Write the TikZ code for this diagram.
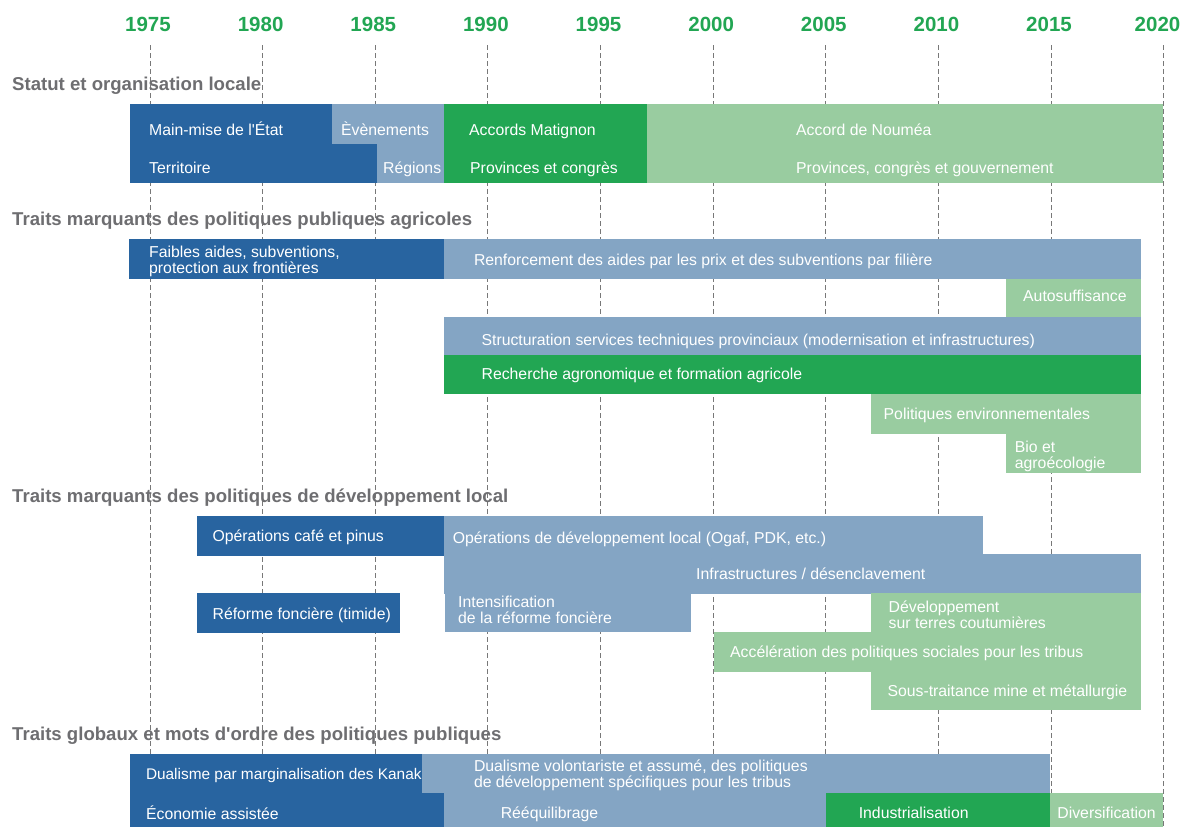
\documentclass[tikz,border=0pt]{standalone}
\usepackage{fontspec}
\setmainfont{Liberation Sans}
\definecolor{dblue}{RGB}{40,100,160}
\definecolor{lblue}{RGB}{132,165,196}
\definecolor{dgreen}{RGB}{34,166,83}
\definecolor{lgreen}{RGB}{153,204,160}
\definecolor{headgrey}{RGB}{110,110,113}
\definecolor{gridgrey}{RGB}{120,120,120}
\begin{document}
\begin{tikzpicture}[x=1pt,y=-1pt,
  lbl/.style={anchor=base west,inner sep=0pt,text=white,font=\fontsize{15.8}{16}\selectfont},
  lbltwo/.style={anchor=north west,inner sep=0pt,text=white,align=left,font=\fontsize{15.8}{16}\selectfont},
  head/.style={anchor=base west,inner sep=0pt,text=headgrey,font=\bfseries\fontsize{18.6}{20}\selectfont},
  yearlbl/.style={anchor=base,inner sep=0pt,text=dgreen,font=\bfseries\fontsize{20.5}{22}\selectfont},
  gridline/.style={draw=gridgrey,line width=1pt,dash pattern=on 5pt off 3pt}]
\useasboundingbox (0,0) rectangle (1181,827);
\fill[white] (0,0) rectangle (1181,827);

% grid
\foreach \yr [count=\i from 0] in {1975,1980,1985,1990,1995,2000,2005,2010,2015,2020}{
  \coordinate (gt\yr) at ({150+\i*112.63},45);
  \coordinate (gb\yr) at ({150+\i*112.63},827);
  \draw[gridline] (gt\yr) -- (gb\yr);
}
% year labels
\foreach \yr [count=\i from 0] in {1975,1980,1985,1990,1995,2000,2005,2010,2015}{
  \node[yearlbl] (y\yr) at ({148+\i*112.63},31.3) {\yr};
}
\node[yearlbl] (y2020) at (1157.5,31.3) {2020};

% ---------- Section 1
\node[head] (h1) at (12,90.5) {Statut et organisation locale};
\fill[dblue] (130,104) rectangle (332,144);
\fill[dblue] (130,143.5) rectangle (377,182.5);
\fill[lblue] (332,104) rectangle (444,144);
\fill[lblue] (377,143.5) rectangle (444,182.5);
\fill[dgreen] (444,104) rectangle (647,182.5);
\fill[lgreen] (647,104) rectangle (1163,182.5);
\node[lbl] (t11) at (149,135.5) {Main-mise de l\textquotesingle État};
\node[lbl] (t12) at (149,173) {Territoire};
\node[lbl] (t13) at (341,135.5) {Èvènements};
\node[lbl] (t14) at (383,173) {Régions};
\node[lbl] (t15) at (469,135.5) {Accords Matignon};
\node[lbl] (t16) at (470,173) {Provinces et congrès};
\node[lbl] (t17) at (796,135.5) {Accord de Nouméa};
\node[lbl] (t18) at (796,173) {Provinces, congrès et gouvernement};

% ---------- Section 2
\node[head] (h2) at (12,225.6) {Traits marquants des politiques publiques agricoles};
\fill[dblue] (129,239) rectangle (444,279);
\fill[lblue] (444,239) rectangle (1141,279);
\fill[lgreen] (1005.6,278.7) rectangle (1141,317);
\fill[lblue] (444,317) rectangle (1141,355.3);
\fill[dgreen] (444,355) rectangle (1141,394.3);
\fill[lgreen] (870.8,394) rectangle (1141,433.5);
\fill[lgreen] (1005.6,433) rectangle (1141,472.7);
\node[lbltwo] (t21) at (149,245.9) {Faibles aides, subventions,\\protection aux frontières};
\node[lbl] (t22) at (473.8,265.7) {Renforcement des aides par les prix et des subventions par filière};
\node[lbl] (t23) at (1023,301.4) {Autosuffisance};
\node[lbl] (t24) at (481.4,345) {Structuration services techniques provinciaux (modernisation et infrastructures)};
\node[lbl] (t25) at (481.4,379.7) {Recherche agronomique et formation agricole};
\node[lbl] (t26) at (883.5,419) {Politiques environnementales};
\node[lbltwo] (t27) at (1014.7,440.9) {Bio et\\agroécologie};

% ---------- Section 3
\node[head] (h3) at (12,502.3) {Traits marquants des politiques de développement local};
\fill[dblue] (197,516) rectangle (444,555.7);
\fill[lblue] (444,516) rectangle (983,554.5);
\fill[lblue] (444,554) rectangle (1141,593.5);
\fill[lblue] (445,593) rectangle (691.4,631.7);
\fill[dblue] (197,593.3) rectangle (400,632.7);
\fill[lgreen] (870.8,593) rectangle (1141,632.5);
\fill[lgreen] (713.6,632) rectangle (1141,671.5);
\fill[lgreen] (870.8,671) rectangle (1141,710);
\node[lbl] (t31) at (212.4,541.4) {Opérations café et pinus};
\node[lbl] (t32) at (452.7,543.4) {Opérations de développement local (Ogaf, PDK, etc.)};
\node[lbl] (t33) at (696,579) {Infrastructures / désenclavement};
\node[lbltwo] (t34) at (458,595.9) {Intensification\\de la réforme foncière};
\node[lbl] (t35) at (212.4,619) {Réforme foncière (timide)};
\node[lbltwo] (t36) at (888.5,600.9) {Développement\\sur terres coutumières};
\node[lbl] (t37) at (730,657.4) {Accélération des politiques sociales pour les tribus};
\node[lbl] (t38) at (887.3,696.4) {Sous-traitance mine et métallurgie};

% ---------- Section 4
\node[head] (h4) at (12,740.6) {Traits globaux et mots d\textquotesingle ordre des politiques publiques};
\fill[dblue] (130,754) rectangle (422,793);
\fill[dblue] (130,792.5) rectangle (444,827);
\fill[lblue] (422,754) rectangle (1050,793);
\fill[lblue] (444,792.5) rectangle (825.5,827);
\fill[dgreen] (825.5,792.5) rectangle (1050,827);
\fill[lgreen] (1050,792.5) rectangle (1163,827);
\node[lbl,font=\fontsize{15.4}{16}\selectfont] (t41) at (145.8,779.7) {Dualisme par marginalisation des Kanak};
\node[lbltwo] (t42) at (473.8,759.9) {Dualisme volontariste et assumé, des politiques\\de développement spécifiques pour les tribus};
\node[lbl] (t43) at (146,819) {Économie assistée};
\node[lbl] (t44) at (500.6,818.4) {Rééquilibrage};
\node[lbl] (t45) at (858.6,818.4) {Industrialisation};
\node[lbl] (t46) at (1057.2,818.4) {Diversification};
\end{tikzpicture}
\end{document}
